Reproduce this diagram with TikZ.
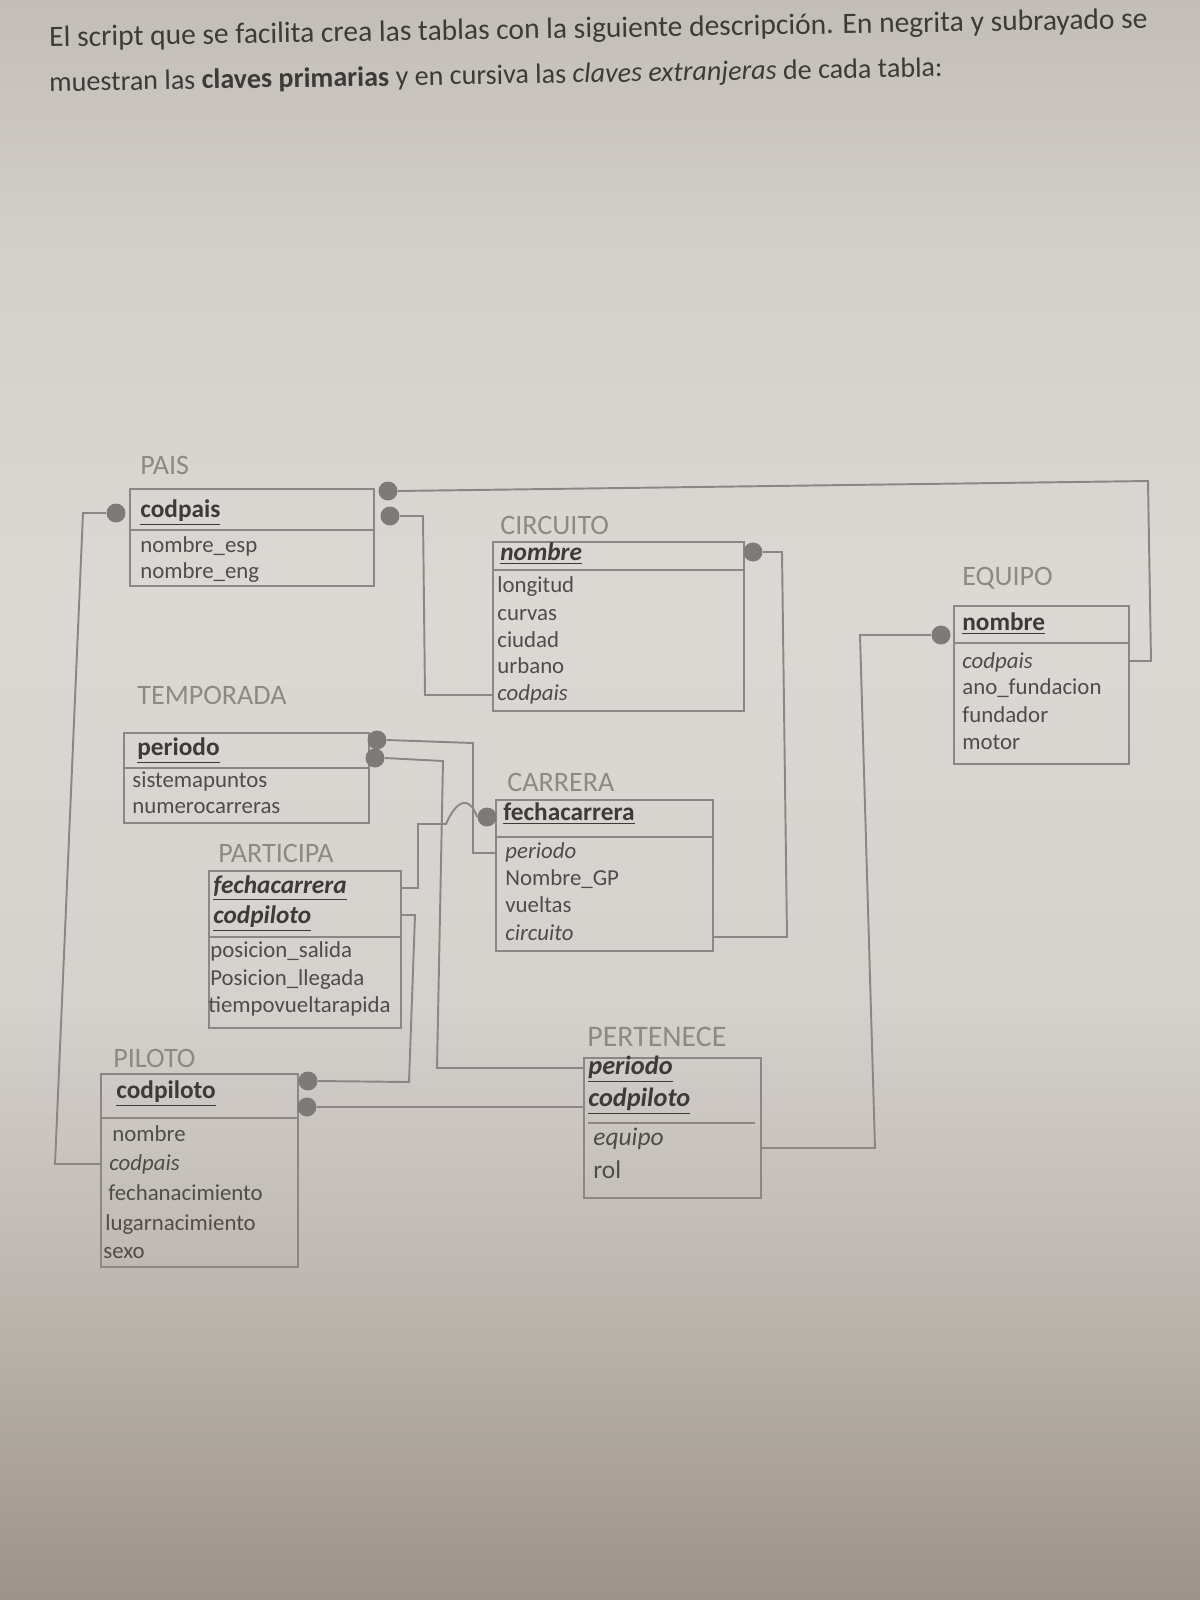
\documentclass[tikz,border=0pt]{standalone}
\usepackage{fontspec}
\setmainfont{Carlito}
\usetikzlibrary{shapes}
\definecolor{papelA}{HTML}{C3BDB7}
\definecolor{papelB}{HTML}{D3CFCB}
\definecolor{papelC}{HTML}{DCD9D5}
\definecolor{papelD}{HTML}{D5D1CD}
\definecolor{papelE}{HTML}{BDB6AF}
\definecolor{papelF}{HTML}{9C938B}
\definecolor{linea}{HTML}{8C8784}
\definecolor{punto}{HTML}{7E7A77}
\definecolor{titulo}{HTML}{8E8985}
\definecolor{texto}{HTML}{504C49}
\definecolor{clave}{HTML}{3E3A37}
\pgfdeclareverticalshading{papel}{100bp}{color(0bp)=(papelF); color(25bp)=(papelF); color(34.4bp)=(papelE); color(43.75bp)=(papelD); color(56.25bp)=(papelC); color(67.2bp)=(papelB); color(75bp)=(papelA); color(100bp)=(papelA)}
\newcommand{\pk}[1]{\textbf{\underline{#1}}}
\newcommand{\pkfk}[1]{\textbf{\textit{\underline{#1}}}}
\newcommand{\fk}[1]{\textit{#1}}

\begin{document}
\begin{tikzpicture}[x=0.02cm,y=-0.02cm]
	\tikzstyle{tabla} = [draw=linea, line width=0.9pt, anchor=north west, inner sep=0pt]
	\tikzstyle{sep} = [draw=linea, line width=0.9pt]
	\tikzstyle{nombre} = [anchor=west, inner sep=0pt, text=titulo, font=\fontsize{16}{18}\selectfont]
	\tikzstyle{attr} = [anchor=west, inner sep=0pt, text height=1.6ex, text depth=0.2ex, text=texto, font=\fontsize{13}{15}\selectfont]
	\tikzstyle{key} = [attr, text=clave, font=\fontsize{14.4}{16}\selectfont]
	\tikzstyle{cabecera} = [anchor=west, inner sep=0pt, rotate=0.95, text=clave, font=\fontsize{16.8}{18}\selectfont]
	\tikzstyle{dot} = [circle, fill=punto, minimum size=0.38cm, inner sep=0pt]
	\tikzstyle{rel} = [draw=linea, line width=1.1pt]

	\clip (0,0) rectangle (1200,1600);
	\shade[shading=papel] (0,0) rectangle (1200,1600);

	\node[cabecera, font=\fontsize{17}{19}\bfseries] (Titulo) at (50,-12) {Tablas};
	\node[cabecera] (Intro) at (49,39) {El script que se facilita crea las tablas con la siguiente descripción. En negrita y subrayado se};
	\node[cabecera, font=\fontsize{16}{18}\selectfont] (IntroB) at (49,84) {muestran las \textbf{claves primarias} y en cursiva las \textit{claves extranjeras} de cada tabla:};

	\node[tabla, minimum width=4.88cm, minimum height=1.94cm] (Pais) at (129,488) {};
	\node[tabla, minimum width=5.02cm, minimum height=3.38cm] (Circuito) at (492,541) {};
	\node[tabla, minimum width=3.5cm, minimum height=3.16cm] (Equipo) at (953,605) {};
	\node[tabla, minimum width=4.9cm, minimum height=1.8cm] (Temporada) at (123,732) {};
	\node[tabla, minimum width=3.84cm, minimum height=3.14cm] (Participa) at (208,870) {};
	\node[tabla, minimum width=4.34cm, minimum height=3.02cm] (Carrera) at (495,799) {};
	\node[tabla, minimum width=3.94cm, minimum height=3.86cm] (Piloto) at (100,1073) {};
	\node[tabla, minimum width=3.54cm, minimum height=2.8cm] (Pertenece) at (583,1057) {};
	\draw[sep] (129,530) -- (373,530);
	\draw[sep] (492,570) -- (743,570);
	\draw[sep] (953,643) -- (1128,643);
	\draw[sep] (123,768) -- (368,768);
	\draw[sep] (208,937) -- (400,937);
	\draw[sep] (495,837) -- (712,837);
	\draw[sep] (100,1118) -- (297,1118);
	\draw[sep] (588,1123) -- (755,1123);

	\node[nombre] (PaisN) at (140,465) {PAIS};
	\node[key] (PaisCod) at (140,512) {\pk{codpais}};
	\node[attr] (PaisEsp) at (140,547) {nombre\_esp};
	\node[attr] (PaisEng) at (140,573) {nombre\_eng};

	\node[nombre] (CircuitoN) at (500,525) {CIRCUITO};
	\node[key] (CircuitoNom) at (500,555) {\pkfk{nombre}};
	\node[attr] (CircuitoLon) at (497,587) {longitud};
	\node[attr] (CircuitoCur) at (497,615) {curvas};
	\node[attr] (CircuitoCiu) at (497,642) {ciudad};
	\node[attr] (CircuitoUrb) at (497,668) {urbano};
	\node[attr] (CircuitoPais) at (497,695) {\fk{codpais}};

	\node[nombre] (EquipoN) at (962,578) {EQUIPO};
	\node[key] (EquipoNom) at (962,625) {\pk{nombre}};
	\node[attr] (EquipoPais) at (962,663) {\fk{codpais}};
	\node[attr] (EquipoAno) at (962,689) {ano\_fundacion};
	\node[attr] (EquipoFun) at (962,717) {fundador};
	\node[attr] (EquipoMot) at (962,744) {motor};

	\node[nombre] (TemporadaN) at (137,695) {TEMPORADA};
	\node[key] (TemporadaPer) at (137,750) {\pk{periodo}};
	\node[attr] (TemporadaSis) at (132,782) {sistemapuntos};
	\node[attr] (TemporadaNum) at (132,808) {numerocarreras};

	\node[nombre] (ParticipaN) at (218,853) {PARTICIPA};
	\node[key] (ParticipaFec) at (213,888) {\pkfk{fechacarrera}};
	\node[key] (ParticipaPil) at (213,918) {\pkfk{codpiloto}};
	\node[attr] (ParticipaSal) at (210,952) {posicion\_salida};
	\node[attr] (ParticipaLle) at (210,980) {Posicion\_llegada};
	\node[attr] (ParticipaTie) at (208,1007) {tiempovueltarapida};

	\node[nombre] (CarreraN) at (507,782) {CARRERA};
	\node[key] (CarreraFec) at (503,815) {\pk{fechacarrera}};
	\node[attr] (CarreraPer) at (505,853) {\fk{periodo}};
	\node[attr] (CarreraGP) at (505,880) {Nombre\_GP};
	\node[attr] (CarreraVue) at (505,907) {vueltas};
	\node[attr] (CarreraCir) at (505,935) {\fk{circuito}};

	\node[nombre] (PilotoN) at (113,1058) {PILOTO};
	\node[key] (PilotoCod) at (116,1093) {\pk{codpiloto}};
	\node[attr] (PilotoNom) at (112,1136) {nombre};
	\node[attr] (PilotoPais) at (109,1165) {\fk{codpais}};
	\node[attr] (PilotoFec) at (108,1195) {fechanacimiento};
	\node[attr] (PilotoLug) at (105,1225) {lugarnacimiento};
	\node[attr] (PilotoSex) at (103,1253) {sexo};

	\node[nombre, font=\fontsize{17}{19}\selectfont] (PerteneceN) at (587,1037) {PERTENECE};
	\node[key, font=\fontsize{15}{17}\selectfont] (PertenecePer) at (588,1069) {\pkfk{periodo}};
	\node[key, font=\fontsize{15}{17}\selectfont] (PertenecePil) at (588,1101) {\pkfk{codpiloto}};
	\node[attr, font=\fontsize{14.5}{16}\selectfont] (PerteneceEq) at (593,1140) {\fk{equipo}};
	\node[attr, font=\fontsize{14.5}{16}\selectfont] (PerteneceRol) at (593,1173) {rol};

	\node[dot] (PaisDotL) at (116,513) {};
	\node[dot] (PaisDotA) at (388,491) {};
	\node[dot] (PaisDotB) at (390,516) {};
	\node[dot] (CircuitoDot) at (753,552) {};
	\node[dot] (EquipoDot) at (941,635) {};
	\node[dot] (TempDotA) at (377,740) {};
	\node[dot] (TempDotB) at (375,758) {};
	\node[dot] (CarreraDot) at (487,817) {};
	\node[dot] (PilotoDotA) at (308,1081) {};
	\node[dot] (PilotoDotB) at (307,1107) {};

	\coordinate (aTop) at (83,513);
	\coordinate (aBot) at (55,1164);
	\coordinate (bTop) at (1148,481);
	\coordinate (bBot) at (1151,661);
	\coordinate (cTop) at (423,516);
	\coordinate (cBot) at (425,695);
	\coordinate (dTop) at (782,552);
	\coordinate (dBot) at (787,937);
	\coordinate (eTop) at (860,635);
	\coordinate (eBot) at (875,1148);
	\coordinate (fTop) at (473,743);
	\coordinate (fBot) at (473,853);
	\coordinate (gTop) at (443,761);
	\coordinate (gBot) at (437,1068);
	\coordinate (hJump) at (446,824);
	\coordinate (hTop) at (418,824);
	\coordinate (hBot) at (418,888);
	\coordinate (iBot) at (409,1082);
	\coordinate (iTop) at (415,915);

	\draw[rel] (PaisDotL.west) -- (aTop) -- (aBot) -- (Piloto.west |- aBot);
	\draw[rel] (PaisDotA.east) -- (bTop) -- (bBot) -- (Equipo.east |- bBot);
	\draw[rel] (PaisDotB.east) -- (cTop) -- (cBot) -- (Circuito.west |- cBot);
	\draw[rel] (CircuitoDot.east) -- (dTop) -- (dBot) -- (Carrera.east |- dBot);
	\draw[rel] (EquipoDot.west) -- (eTop) -- (eBot) -- (Pertenece.east |- eBot);
	\draw[rel] (TempDotA.east) -- (fTop) -- (fBot) -- (Carrera.west |- fBot);
	\draw[rel] (TempDotB.east) -- (gTop) -- (gBot) -- (Pertenece.west |- gBot);
	\draw[rel] (CarreraDot.west) .. controls (470,797) and (458,797) .. (hJump) -- (hTop) -- (hBot) -- (Participa.east |- hBot);
	\draw[rel] (PilotoDotA.east) -- (iBot) -- (iTop) -- (Participa.east |- iTop);
	\draw[rel] (PilotoDotB.east) -- (Pertenece.west |- PilotoDotB);
\end{tikzpicture}
\end{document}
